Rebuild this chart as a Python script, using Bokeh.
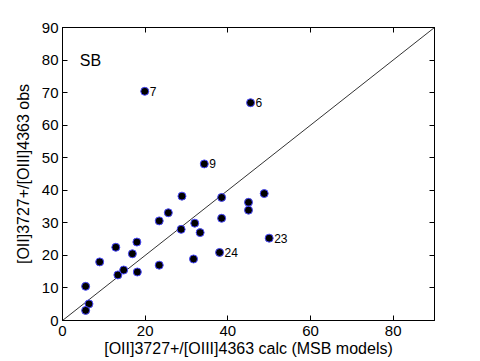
from bokeh.plotting import figure
from bokeh.models import LinearAxis, Range1d, FixedTicker, Label
from bokeh.embed import file_html
from bokeh.resources import INLINE
from bokeh.core.properties import value

# Data
x_calc = [5.6, 6.4, 5.6, 9.0, 12.9, 13.4, 14.8, 16.9, 18.0, 18.1, 23.4, 23.4, 25.6,
          28.9, 28.7, 32.0, 31.7, 33.3, 38.0, 38.5, 38.5, 48.8, 45.0, 45.0, 50.0,
          19.9, 34.3, 45.5]
y_obs = [10.5, 5.1, 3.1, 18.0, 22.5, 14.0, 15.5, 20.5, 24.1, 14.9, 30.6, 17.0, 33.1,
         38.2, 28.0, 29.9, 18.9, 27.0, 20.9, 37.8, 31.4, 39.0, 36.3, 33.9, 25.3,
         70.4, 48.1, 66.9]
lab_x = [19.9, 45.5, 34.3, 38.0, 50.0]
lab_y = [70.4, 66.9, 48.1, 20.9, 25.3]
lab_t = ["7", "6", "9", "24", "23"]
line_x = [0, 90]
line_y = [0, 90]
x_ticks = [0, 20, 40, 60, 80]
y_ticks = [0, 10, 20, 30, 40, 50, 60, 70, 80, 90]

FONT = "Liberation Sans"

p = figure(width=480, height=361, output_backend="svg", toolbar_location=None,
           x_range=Range1d(0, 90), y_range=Range1d(0, 90),
           min_border_left=62, min_border_right=46, min_border_top=27, min_border_bottom=41,
           x_axis_label="[OII]3727+/[OIII]4363 calc (MSB models)",
           y_axis_label="[OII]3727+/[OIII]4363 obs")
p.xgrid.visible = False
p.ygrid.visible = False
p.outline_line_color = "black"
p.outline_line_width = 1
p.background_fill_color = "white"
p.border_fill_color = "white"

for ax, ticks in ((p.xaxis[0], x_ticks), (p.yaxis[0], y_ticks)):
    ax.ticker = FixedTicker(ticks=ticks)
    ax.major_tick_in = 5
    ax.major_tick_out = 0
    ax.minor_tick_line_color = None
    ax.axis_line_color = "black"
    ax.major_label_text_font = FONT
    ax.major_label_text_font_size = "15px"
    ax.major_label_text_color = "black"
    ax.axis_label_text_font = FONT
    ax.axis_label_text_font_size = "16px"
    ax.axis_label_text_font_style = "normal"
    ax.axis_label_text_color = "black"

p.xaxis[0].major_label_standoff = 5
p.xaxis[0].axis_label_standoff = 1
p.yaxis[0].major_label_standoff = 4
p.yaxis[0].axis_label_standoff = 7

top = LinearAxis(ticker=FixedTicker(ticks=x_ticks), major_tick_in=5, major_tick_out=0,
                 minor_tick_line_color=None, major_label_text_color=None,
                 major_label_standoff=0)
right = LinearAxis(ticker=FixedTicker(ticks=y_ticks), major_tick_in=5, major_tick_out=0,
                   minor_tick_line_color=None, major_label_text_color=None,
                   major_label_standoff=0)
p.add_layout(top, "above")
p.add_layout(right, "right")

p.line(line_x, line_y, line_color="#333333", line_width=1)
p.scatter(x_calc, y_obs, size=8, fill_color="black", line_color="#4a4aff", line_width=1)

p.text(x=lab_x, y=lab_y, text=lab_t, x_offset=5, text_baseline="middle", text_align="left",
       text_font=value(FONT), text_font_size="12px", text_color="black")

p.add_layout(Label(x=4.2, y=80, text="SB", text_baseline="middle", text_align="left",
                   text_font=FONT, text_font_size="16px", text_color="black"))

open("out.html", "w").write(file_html(p, INLINE))
